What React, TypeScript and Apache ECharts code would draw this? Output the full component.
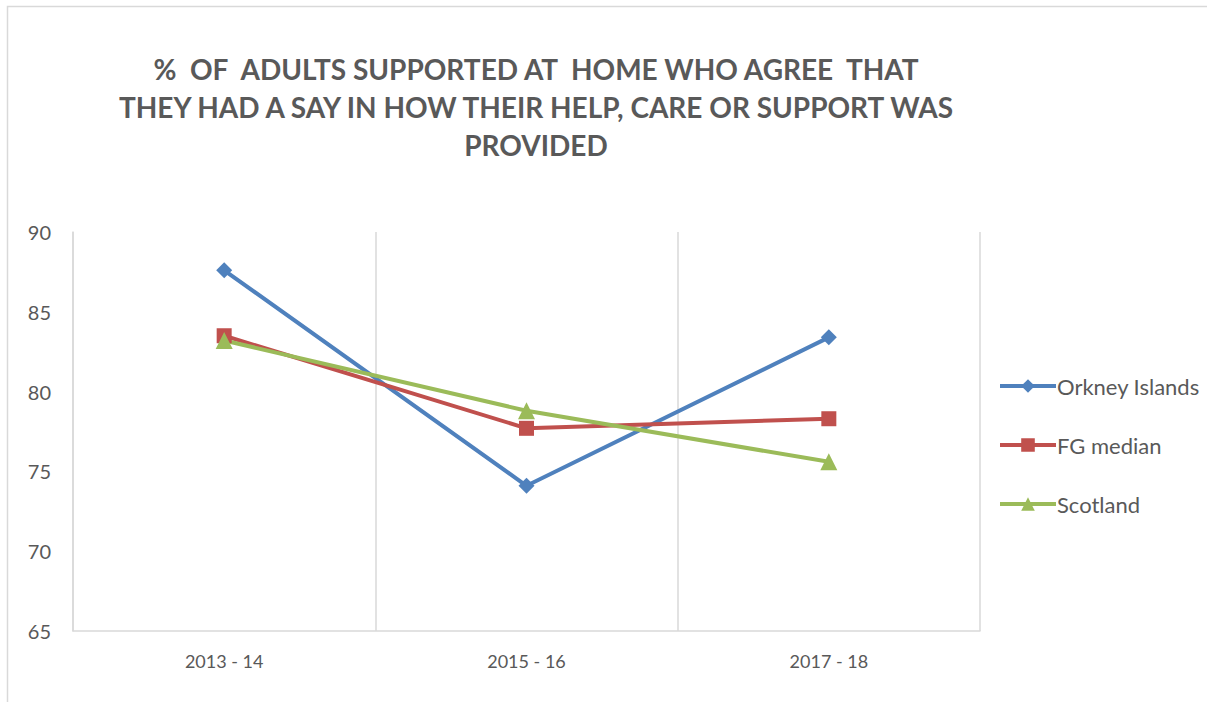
import React, { useEffect, useRef } from "react";
import * as echarts from "echarts";

const categories = ["2013 - 14", "2015 - 16", "2017 - 18"];
const orkney = [87.6, 74.1, 83.4];
const fgMedian = [83.5, 77.7, 78.3];
const scotland = [83.2, 78.8, 75.6];
const titleLines = [
  "%  OF  ADULTS SUPPORTED AT  HOME WHO AGREE  THAT",
  "THEY HAD A SAY IN HOW THEIR HELP, CARE OR SUPPORT WAS",
  "PROVIDED",
];

const FONT = "Lato, 'Open Sans', sans-serif";
const TXT = "#595959";

export default function App() {
  const ref = useRef<HTMLDivElement>(null);
  useEffect(() => {
    if (!ref.current) return;
    const chart = echarts.init(ref.current, null, { renderer: "svg" });
    const mk = (name: string, data: number[], color: string, symbol: string, size: number) => ({
      name,
      type: "line",
      data,
      symbol,
      symbolSize: size,
      lineStyle: { color, width: 4 },
      itemStyle: { color },
      emphasis: { disabled: true },
    });
    chart.setOption({
      animation: false,
      backgroundColor: "#fff",
      textStyle: { fontFamily: FONT },
      graphic: [
        {
          type: "rect",
          shape: { x: 7.5, y: 6.5, width: 1220, height: 720 },
          style: { fill: "none", stroke: "#D9D9D9", lineWidth: 1.5 },
          silent: true,
        },
        {
          type: "text",
          x: 536,
          y: 50,
          style: {
            text: titleLines.join("\n"),
            fontFamily: FONT,
            fontWeight: "bold",
            fontSize: 28,
            lineHeight: 38,
            fill: TXT,
            align: "center",
            verticalAlign: "top",
          },
        },
      ],
      legend: {
        orient: "vertical",
        left: 993,
        top: 370,
        itemWidth: 56,
        itemHeight: 17,
        itemGap: 37,
        lineStyle: { width: 4 },
        textStyle: { fontFamily: FONT, fontSize: 22, lineHeight: 22, color: TXT, padding: [0, 0, 0, -4] },
        data: ["Orkney Islands", "FG median", "Scotland"],
      },
      grid: { left: 73, right: 227, top: 232, bottom: 71, containLabel: false },
      xAxis: {
        type: "category",
        data: categories,
        boundaryGap: true,
        axisLine: { lineStyle: { color: "#D9D9D9", width: 1.5 } },
        axisTick: { show: false },
        axisLabel: { fontFamily: FONT, fontSize: 18, color: TXT, margin: 21 },
        splitLine: { show: true, lineStyle: { color: "#D9D9D9", width: 1.5 } },
      },
      yAxis: {
        type: "value",
        min: 65,
        max: 90,
        interval: 5,
        axisLine: { show: true, lineStyle: { color: "#D9D9D9", width: 1.5 } },
        axisTick: { show: false },
        splitLine: { show: false },
        axisLabel: { fontFamily: FONT, fontSize: 20, color: TXT, margin: 22 },
      },
      series: [
        mk("Orkney Islands", orkney, "#4F81BD", "diamond", 16),
        mk("FG median", fgMedian, "#C0504D", "rect", 15),
        mk("Scotland", scotland, "#9BBB59", "triangle", 17),
      ],
    });
    return () => chart.dispose();
  }, []);
  return (
    <div
      ref={ref}
      style={{ position: "absolute", left: 0, top: 0, width: 1207, height: 702 }}
    />
  );
}
